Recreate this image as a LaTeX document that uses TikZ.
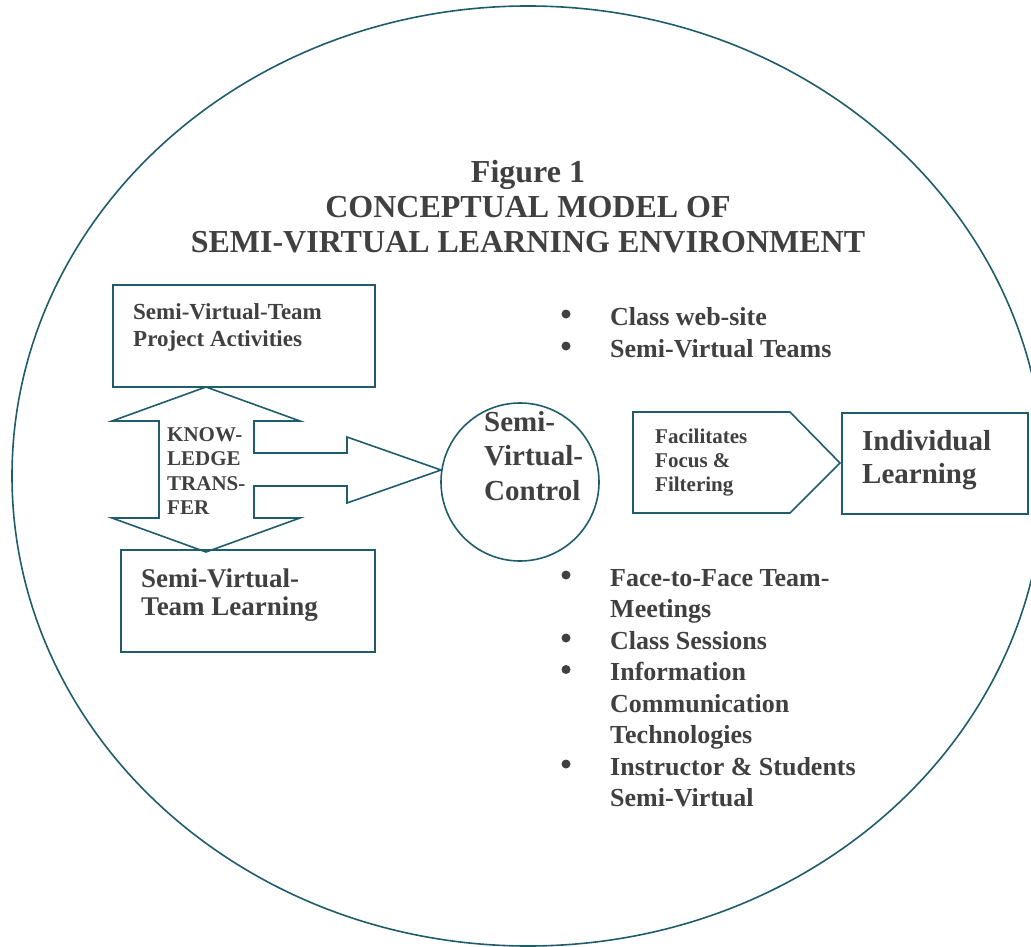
\documentclass[tikz,border=0pt]{standalone}
\usepackage{fontspec}
\setmainfont{Liberation Serif}
\usetikzlibrary{positioning}
\definecolor{modelline}{RGB}{31,92,108}
\definecolor{modeltext}{RGB}{64,64,64}

\begin{document}
\begin{tikzpicture}[x=1pt,y=-1pt,line join=miter,
    frame/.style={draw=modelline,line width=1.6pt},
    box/.style={frame,rectangle,anchor=north west,inner sep=0pt},
    txt/.style={text=modeltext,inner sep=0pt,align=left,anchor=base west},
    bul/.style={circle,fill=modeltext,minimum size=9,inner sep=0pt}]
    \useasboundingbox (0,0) rectangle (1031,947);

    % draw the surrounding environment
    \draw[frame] (528,476) ellipse [x radius=516, y radius=470];

    % draw the title (base is the last line)
    \node[text=modeltext,inner sep=0pt,align=center,anchor=base,
          font=\fontsize{32}{35}\selectfont\bfseries] (title) at (528,252)
          {Figure 1\\CONCEPTUAL MODEL OF\\SEMI-VIRTUAL LEARNING ENVIRONMENT};

    % draw the two team boxes
    \node[box,minimum width=262,minimum height=102] (project) at (112,284) {};
    \node[box,minimum width=254,minimum height=102] (teamlearn) at (120,549) {};
    \node[txt,font=\fontsize{23}{27}\selectfont\bfseries] (projecttext) at (133,346)
          {Semi-Virtual-Team\\Project Activities};
    \node[txt,font=\fontsize{27}{28}\selectfont\bfseries] (teamlearntext) at (141,615)
          {Semi-Virtual-\\Team Learning};

    % draw the knowledge transfer arrow
    \draw[frame] (206,387) -- (300,421) -- (254,421) -- (254,453) -- (347,453)
          -- (347,437) -- (441,470) -- (347,503) -- (347,486) -- (254,486)
          -- (254,518) -- (300,518) -- (206,552) -- (112,518) -- (159,518)
          -- (159,421) -- (112,421) -- cycle;
    \node[txt,font=\fontsize{21}{24.5}\selectfont\bfseries] (transfer) at (167,514.5)
          {KNOW-\\LEDGE\\TRANS-\\FER};

    % draw the control circle
    \node[frame,circle,minimum size=158,inner sep=0pt] (control) at (520,482) {};
    \node[txt,font=\fontsize{29}{34.5}\selectfont\bfseries] (controltext) at (484,500)
          {Semi-\\Virtual-\\Control};

    % draw the filter arrow and the individual box
    \draw[frame] (633,412) -- (790,412) -- (840,463) -- (790,513) -- (633,513) -- cycle;
    \node[txt,font=\fontsize{21}{24}\selectfont\bfseries] (filter) at (655,491)
          {Facilitates\\Focus \&\\Filtering};
    \node[box,minimum width=186,minimum height=101] (individual) at (841,412) {};
    \node[txt,font=\fontsize{29}{33.5}\selectfont\bfseries] (individualtext) at (862,483.5)
          {Individual\\Learning};

    % draw the bullets above the circle
    \foreach \y/\z/\itemtext in {
        325/325/Class web-site,
        357/357/Semi-Virtual Teams}
    {
        \node[bul] at (566,\y-11) {};
        \node[txt,font=\fontsize{26}{32}\selectfont\bfseries] at (610,\z) {\itemtext};
    }

    % draw the bullets below the circle
    % \y is the first line, \z the last line of each item
    \foreach \y/\z/\itemtext in {
        586/617.5/{Face-to-Face Team-\\Meetings},
        649/649/Class Sessions,
        680.5/743.5/{Information\\Communication\\Technologies},
        775/806.5/{Instructor \& Students\\Semi-Virtual}}
    {
        \node[bul] at (566,\y-11) {};
        \node[txt,font=\fontsize{26}{31.5}\selectfont\bfseries] at (610,\z) {\itemtext};
    }
\end{tikzpicture}
\end{document}
